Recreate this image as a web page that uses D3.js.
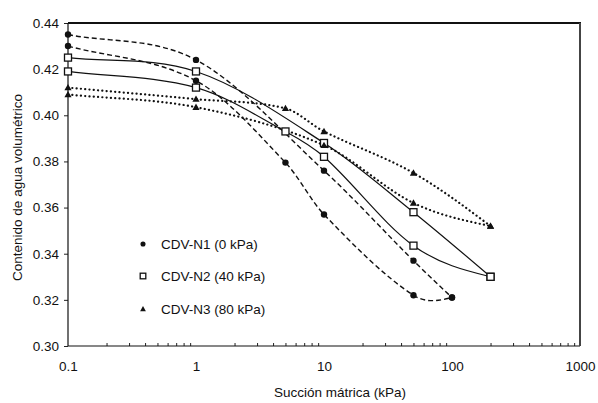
<!DOCTYPE html>
<html>
<head>
<meta charset="utf-8">
<script src="https://cdn.jsdelivr.net/npm/d3@7"></script>
<style>
  html, body { margin: 0; padding: 0; background: #fff; }
  svg { display: block; font-family: "Liberation Sans", Arial, sans-serif; }
</style>
</head>
<body>
<svg id="chart" width="598" height="403"></svg>
<script>
// Retention curves: two branches per specimen (suction in kPa, volumetric water content)
const n1UpperX = [0.1, 1, 10, 50, 100];
const n1UpperY = [0.435, 0.424, 0.376, 0.337, 0.321];
const n1LowerX = [0.1, 1, 5, 10, 50, 100];
const n1LowerY = [0.430, 0.415, 0.3795, 0.357, 0.322, 0.321];

const n2UpperX = [0.1, 1, 10, 50, 200];
const n2UpperY = [0.425, 0.419, 0.388, 0.358, 0.330];
const n2LowerX = [0.1, 1, 5, 10, 50, 200];
const n2LowerY = [0.419, 0.412, 0.393, 0.382, 0.3435, 0.330];

const n3UpperX = [0.1, 1, 5, 10, 50, 200];
const n3UpperY = [0.412, 0.407, 0.403, 0.393, 0.375, 0.352];
const n3LowerX = [0.1, 1, 10, 50, 200];
const n3LowerY = [0.409, 0.4035, 0.387, 0.362, 0.352];

const seriesNames = ["CDV-N1 (0 kPa)", "CDV-N2 (40 kPa)", "CDV-N3 (80 kPa)"];
const xTickValues = [0.1, 1, 10, 100, 1000];
const xTickLabels = ["0.1", "1", "10", "100", "1000"];
const yTickValues = [0.30, 0.32, 0.34, 0.36, 0.38, 0.40, 0.42, 0.44];

const zip = (xs, ys) => xs.map((x, i) => [x, ys[i]]);

const series = [
  { name: seriesNames[0], marker: "circle", dash: "5,3", width: 1.4,
    branches: [zip(n1UpperX, n1UpperY), zip(n1LowerX, n1LowerY)] },
  { name: seriesNames[1], marker: "square", dash: null, width: 1.2,
    branches: [zip(n2UpperX, n2UpperY), zip(n2LowerX, n2LowerY)] },
  { name: seriesNames[2], marker: "triangle", dash: "0.1,4.2", width: 2.2,
    branches: [zip(n3UpperX, n3UpperY), zip(n3LowerX, n3LowerY)] }
];

// Smooth curve through the points, treating y as a function of screen x:
// cubic Hermite segments with finite-difference slopes; the low-suction end
// follows its first chord, the high-suction end uses a parabolic end slope.
function curveHermiteX(context) {
  let pts = [];
  return {
    areaStart() {}, areaEnd() {},
    lineStart() { pts = []; },
    point(px, py) { pts.push([+px, +py]); },
    lineEnd() {
      const n = pts.length;
      if (!n) return;
      context.moveTo(pts[0][0], pts[0][1]);
      if (n === 1) return;
      if (n === 2) { context.lineTo(pts[1][0], pts[1][1]); return; }
      const sec = [];
      for (let i = 0; i < n - 1; i++) sec.push((pts[i + 1][1] - pts[i][1]) / (pts[i + 1][0] - pts[i][0]));
      const m = new Array(n);
      for (let i = 1; i < n - 1; i++) m[i] = (pts[i + 1][1] - pts[i - 1][1]) / (pts[i + 1][0] - pts[i - 1][0]);
      m[0] = sec[0];
      m[n - 1] = (3 * sec[n - 2] - m[n - 2]) / 2;
      for (let i = 0; i < n - 1; i++) {
        const [xa, ya] = pts[i], [xb, yb] = pts[i + 1], h = xb - xa;
        context.bezierCurveTo(xa + h / 3, ya + m[i] * h / 3, xb - h / 3, yb - m[i + 1] * h / 3, xb, yb);
      }
    }
  };
}

const FONT = 13.5;
const margin = { left: 68, right: 18, top: 23, bottom: 57 };
const W = 598, H = 403;
const svg = d3.select("#chart");

const x = d3.scaleLog().domain([0.1, 1000]).range([margin.left, W - margin.right]);
const y = d3.scaleLinear().domain([0.30, 0.44]).range([H - margin.bottom, margin.top]);

// Left axis with short outward ticks
const yAxis = d3.axisLeft(y).tickValues(yTickValues).tickFormat(d3.format(".2f")).tickSize(4).tickPadding(5);
const gy = svg.append("g").attr("transform", `translate(${margin.left},0)`).call(yAxis);
gy.select(".domain").remove();
gy.selectAll("text").attr("font-size", FONT).attr("fill", "#111").attr("font-family", "Liberation Sans, Arial, sans-serif");
gy.selectAll("line").attr("stroke", "#222");

// Minor ticks inside the bottom axis (2..9 of each decade)
const minor = [];
for (let e = -1; e < 3; e++) for (let m = 2; m <= 9; m++) minor.push(m * Math.pow(10, e));
const xAxis = d3.axisBottom(x).tickValues(minor).tickFormat("").tickSizeInner(-3).tickSizeOuter(0);
const gx = svg.append("g").attr("transform", `translate(0,${H - margin.bottom})`).call(xAxis);
gx.select(".domain").remove();
gx.selectAll("line").attr("stroke", "#222");

// Decade labels
const xLab = d3.axisBottom(x).tickValues(xTickValues).tickFormat((d, i) => xTickLabels[i]).tickSize(0).tickPadding(15);
const gxl = svg.append("g").attr("transform", `translate(0,${H - margin.bottom})`).call(xLab);
gxl.select(".domain").remove();
gxl.selectAll("text").attr("font-size", FONT).attr("fill", "#111").attr("font-family", "Liberation Sans, Arial, sans-serif");

// Frame
const x0 = x.range()[0], x1 = x.range()[1], y0 = y.range()[0], y1 = y.range()[1];
svg.append("line").attr("x1", x0).attr("x2", x0).attr("y1", y1).attr("y2", y0).attr("stroke", "#111").attr("stroke-width", 1.2);
svg.append("line").attr("x1", x0).attr("x2", x1).attr("y1", y0).attr("y2", y0).attr("stroke", "#111").attr("stroke-width", 1.2);
svg.append("line").attr("x1", x0).attr("x2", x1 + 1).attr("y1", y1).attr("y2", y1).attr("stroke", "#111").attr("stroke-width", 2.2);
svg.append("line").attr("x1", x1).attr("x2", x1).attr("y1", y1).attr("y2", y0).attr("stroke", "#444").attr("stroke-width", 2);

// Axis titles
svg.append("text").attr("x", 340).attr("y", 397).attr("text-anchor", "middle")
  .attr("font-size", FONT).attr("fill", "#111").text("Succión mátrica (kPa)");
svg.append("text").attr("transform", `translate(22,${(y0 + y1) / 2 + 3}) rotate(-90)`)
  .attr("text-anchor", "middle").attr("font-size", FONT).attr("fill", "#111")
  .text("Contenido de agua volumétrico");

// Curves
const line = d3.line().x(d => x(d[0])).y(d => y(d[1])).curve(curveHermiteX);
const gLines = svg.append("g");
series.forEach(s => {
  s.branches.forEach(b => {
    gLines.append("path").attr("d", line(b)).attr("fill", "none")
      .attr("stroke", "#111").attr("stroke-width", s.width)
      .attr("stroke-dasharray", s.dash)
      .attr("stroke-linecap", s.marker === "triangle" ? "round" : "butt");
  });
});

function drawMarker(g, type, cx, cy, scale = 1) {
  if (type === "circle") {
    g.append("circle").attr("cx", cx).attr("cy", cy).attr("r", 3.2 * scale).attr("fill", "#111");
  } else if (type === "square") {
    const s = 7 * scale;
    g.append("rect").attr("x", cx - s / 2).attr("y", cy - s / 2).attr("width", s).attr("height", s)
      .attr("fill", "#fff").attr("stroke", "#111").attr("stroke-width", 1.3);
  } else {
    const t = 3.6 * scale;
    g.append("path").attr("d", `M${cx},${cy - t}L${cx + t},${cy + t * 0.75}L${cx - t},${cy + t * 0.75}Z`)
      .attr("fill", "#111");
  }
}

const gMarks = svg.append("g");
series.forEach(s => {
  s.branches.forEach(b => b.forEach(d => drawMarker(gMarks, s.marker, x(d[0]), y(d[1]))));
});

// Legend
const legendY = [244, 276, 309];
series.forEach((s, i) => {
  drawMarker(svg, s.marker, 143, legendY[i], 0.8);
  svg.append("text").attr("x", 161).attr("y", legendY[i] + 5)
    .attr("font-size", FONT).attr("fill", "#111").text(s.name);
});
</script>
</body>
</html>
